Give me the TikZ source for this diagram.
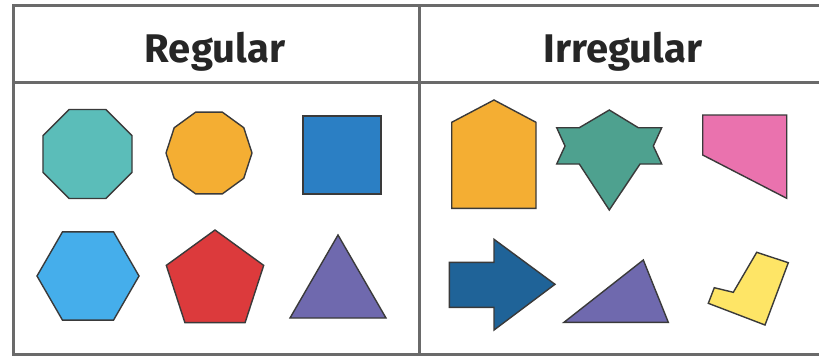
\documentclass[tikz,border=0pt]{standalone}
\usepackage{fontspec}
\setmainfont{Fira Sans}
\definecolor{gridc}{HTML}{6A6A6A}
\definecolor{edgec}{HTML}{3A3A3A}
\definecolor{teal}{HTML}{5BBDB9}
\definecolor{orng}{HTML}{F4AE33}
\definecolor{sqblue}{HTML}{2B7FC4}
\definecolor{hexblue}{HTML}{45AEEB}
\definecolor{pred}{HTML}{DC3A3C}
\definecolor{purp}{HTML}{6F69AE}
\definecolor{sgreen}{HTML}{4EA18F}
\definecolor{pink}{HTML}{EA72AE}
\definecolor{arblue}{HTML}{1F6398}
\definecolor{yell}{HTML}{FEE566}
\begin{document}
\begin{tikzpicture}[x=1pt,y=-1pt,
  gridline/.style={draw=gridc,line width=3pt},
  shp/.style={draw=edgec,line width=1.4pt,line join=miter},
  head/.style={font=\fontsize{40}{44}\selectfont\bfseries,text=black!85,anchor=base,inner sep=0pt}]
\useasboundingbox (0,0) rectangle (819,357);
\fill[white] (0,0) rectangle (819,357);
% table
\draw[gridline] (819,5) -- (13,5) -- (13,354) -- (819,354);
\draw[gridline] (13,82) -- (819,82);
\draw[gridline] (419,5) -- (419,354);
\node[head] (hreg) at (215,62) {Regular};
\node[head] (hirr) at (623,62) {Irregular};
% regular shapes
\filldraw[shp,fill=teal] (87.5,154) +(22.5:48.2) -- +(67.5:48.2) -- +(112.5:48.2) -- +(157.5:48.2) -- +(202.5:48.2) -- +(247.5:48.2) -- +(292.5:48.2) -- +(337.5:48.2) -- cycle;
\filldraw[shp,fill=orng] (209,153) +(0:43) -- +(36:43) -- +(72:43) -- +(108:43) -- +(144:43) -- +(180:43) -- +(216:43) -- +(252:43) -- +(288:43) -- +(324:43) -- cycle;
\filldraw[shp,fill=sqblue] (303,116) rectangle (381,194);
\filldraw[shp,fill=hexblue] (88,276) +(0:51) -- +(60:51) -- +(120:51) -- +(180:51) -- +(240:51) -- +(300:51) -- cycle;
\filldraw[shp,fill=pred] (215,281.2) +(-90:51.2) -- +(-18:51.2) -- +(54:51.2) -- +(126:51.2) -- +(198:51.2) -- cycle;
\filldraw[shp,fill=purp] (338,235) -- (386,318) -- (290,318) -- cycle;
% irregular shapes
\filldraw[shp,fill=orng] (494,100) -- (536,122.3) -- (536,208.3) -- (451.7,208.3) -- (451.7,122.3) -- cycle;
\filldraw[shp,fill=sgreen] (609.3,110) -- (638.3,127.7) -- (661.7,127.7) -- (653.3,146) -- (661.7,164) -- (640,164) -- (609.3,210) -- (579.3,164) -- (556.7,164) -- (565,146) -- (556.7,127.7) -- (579.3,127.7) -- cycle;
\filldraw[shp,fill=pink] (702.7,115) -- (786.7,115) -- (786.7,198.3) -- (702.7,155) -- cycle;
\filldraw[shp,fill=arblue] (449.3,262.3) -- (494,262.3) -- (494,239.3) -- (555,284.3) -- (494,330) -- (494,307.3) -- (449.3,307.3) -- cycle;
\filldraw[shp,fill=purp] (564,322.3) -- (643.3,260) -- (668.3,322.3) -- cycle;
\filldraw[shp,fill=yell] (756.7,252.3) -- (788.3,262.7) -- (765,325) -- (708.3,303.3) -- (714.3,287.7) -- (733.3,292.3) -- cycle;
\end{tikzpicture}
\end{document}
